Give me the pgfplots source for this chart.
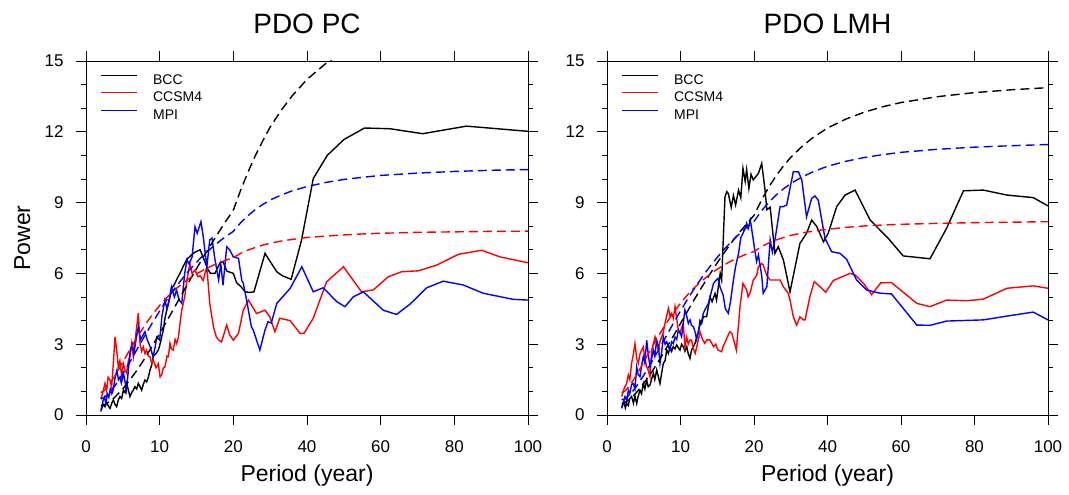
\documentclass[border=0pt]{standalone}
\usepackage{pgfplots}
\pgfplotsset{compat=1.18}
\usepackage{fontspec}
\setmainfont{Liberation Sans}

\pgfplotsset{
  pdo/.style={
    width=442pt, height=354pt, scale only axis,
    xmin=0, xmax=100, ymin=0, ymax=15,
    x coord trafo/.code={\pgfmathparse{(##1<20) ? (##1/10) : (1+##1/20)}},
    xtick={0,10,20,40,60,80,100},
    xticklabels={0,10,20,40,60,80,100},
    ytick={0,3,6,9,12,15},
    minor y tick num=2,
    tick align=outside,
    major tick length=10pt, minor tick length=5pt,
    tick style={line width=0.8pt, black},
    axis line style={line width=0.8pt},
    /pgf/number format/assume math mode=true,
    tick label style={font=\fontsize{17}{17}\selectfont},
    xticklabel style={yshift=-12pt},
    yticklabel style={xshift=-9pt},
    no markers,
    legend style={draw=none, fill=none, at={(0,1)}, anchor=north west,
      xshift=14.7pt, yshift=-13.3pt, font=\fontsize{14}{14}\selectfont,
      row sep=7.5pt, inner sep=0pt, outer sep=0pt,
      nodes={inner sep=0pt, text height=10pt, text depth=0pt},
      /tikz/every odd column/.append style={column sep=15pt}},
    legend image code/.code={\draw[##1] (0pt,4pt) -- (36pt,4pt);},
    legend cell align=left,
  },
  sol/.style={line width=1.4pt},
  dsh/.style={line width=1.4pt, dash pattern=on 9pt off 5pt, forget plot},
}

\begin{document}
\begin{tikzpicture}
\useasboundingbox (0,0) rectangle (1069pt,495pt);

% ---------------- Left panel: PDO PC ----------------
\begin{axis}[pdo, name=L, at={(86pt,80pt)}, anchor=south west]
\addplot[black, sol] coordinates {(2.0,0.15)(2.13,0.28)(2.35,0.45)(2.58,0.35)(2.8,0.55)(3.0,0.4)(3.26,0.28)(3.5,0.5)(3.71,0.64)(3.94,0.45)(4.16,0.35)(4.39,0.64)(4.61,0.78)(4.84,0.7)(5.07,1.05)(5.3,0.95)(5.52,1.34)(5.75,1.06)(5.97,0.78)(6.2,0.95)(6.42,1.05)(6.65,1.2)(6.88,1.1)(7.1,1.34)(7.33,1.2)(7.55,1.05)(7.78,1.3)(8.0,1.48)(8.23,1.4)(8.46,1.6)(8.69,1.9)(8.9,2.1)(9.14,2.5)(9.5,2.6)(9.82,2.75)(10.05,3.0)(10.27,3.31)(10.5,3.6)(10.72,4.1)(11.0,4.5)(11.18,4.73)(11.4,5.0)(11.63,5.4)(11.85,5.45)(12.1,5.6)(12.4,5.8)(12.75,6.0)(13.2,6.3)(13.7,6.6)(14.2,6.75)(14.8,6.9)(15.5,7.0)(16.0,6.6)(16.5,6.2)(16.9,6.0)(17.5,6.0)(18.2,6.45)(18.6,6.5)(19.1,6.1)(20.0,6.0)(20.9,5.6)(22.0,5.45)(23.2,5.22)(24.5,5.19)(25.6,5.22)(28.6,6.85)(29.6,6.6)(31.8,6.07)(33.3,5.9)(35.7,5.75)(38.5,7.4)(41.7,10.02)(45.5,11.0)(50,11.67)(55.6,12.16)(62.5,12.13)(71.4,11.92)(83.3,12.24)(100,12.02)};
\addlegendentry{BCC}
\addplot[red, sol] coordinates {(2.0,0.7)(2.13,0.78)(2.4,1.1)(2.58,1.34)(2.8,1.05)(3.0,1.6)(3.26,1.48)(3.48,1.19)(3.71,2.18)(3.94,3.31)(4.16,2.75)(4.39,2.04)(4.6,2.3)(4.84,1.62)(5.07,2.18)(5.3,1.9)(5.52,1.77)(5.75,2.3)(5.97,2.47)(6.2,3.03)(6.42,2.47)(6.65,3.1)(6.88,3.74)(7.1,4.31)(7.33,3.03)(7.55,2.7)(7.78,2.89)(8.0,2.6)(8.23,2.75)(8.46,2.5)(8.69,2.47)(8.9,2.2)(9.14,2.33)(9.5,2.0)(9.82,2.18)(10.05,1.62)(10.27,1.7)(10.5,2.0)(10.72,2.04)(11.0,2.5)(11.18,2.47)(11.4,3.04)(11.6,2.8)(11.85,2.75)(12.1,3.2)(12.3,3.03)(12.55,3.3)(12.76,3.88)(13.0,4.45)(13.4,5.0)(13.7,5.72)(14.1,6.42)(14.4,6.0)(14.8,6.14)(15.2,5.86)(15.5,5.9)(15.9,5.7)(16.4,6.28)(16.8,4.73)(17.3,3.74)(17.7,3.3)(18.0,3.18)(18.4,3.1)(18.8,3.5)(19.1,3.81)(19.5,3.4)(20.0,3.17)(21.4,3.46)(22.7,4.44)(24.1,4.87)(26.3,4.3)(28.6,4.44)(29.9,4.16)(31.3,3.53)(32.6,4.1)(35.4,4.0)(38.1,3.46)(39.2,3.46)(41.7,4.1)(45.3,5.64)(49.9,6.28)(54.8,5.22)(58,5.3)(62.1,5.86)(65.7,6.07)(70.2,6.11)(75.2,6.35)(81.1,6.81)(87.4,6.98)(92.4,6.7)(100,6.45)};
\addlegendentry{CCSM4}
\addplot[blue, sol] coordinates {(2.0,0.3)(2.13,0.28)(2.3,0.6)(2.5,0.75)(2.7,0.5)(2.9,0.9)(3.1,0.75)(3.3,1.1)(3.5,0.9)(3.7,1.06)(3.9,1.5)(4.2,1.9)(4.4,1.5)(4.6,1.6)(4.8,1.35)(5.1,1.76)(5.3,1.4)(5.5,1.06)(5.75,1.9)(6.0,2.75)(6.3,3.0)(6.5,2.6)(6.8,3.2)(7.1,3.74)(7.4,3.2)(7.6,3.3)(8.0,3.53)(8.3,3.2)(8.7,2.9)(9.1,2.47)(9.4,2.9)(9.6,3.3)(10.0,3.18)(10.3,4.16)(10.7,4.87)(11.0,4.5)(11.2,4.73)(11.6,5.43)(12.0,5.0)(12.3,5.3)(12.6,4.9)(13.0,4.73)(13.4,6.0)(13.7,6.57)(14.0,6.4)(14.4,6.7)(14.8,7.98)(15.1,7.7)(15.6,8.19)(15.9,7.6)(16.4,6.28)(16.8,7.42)(17.1,7.5)(17.5,6.6)(18.0,5.72)(18.3,6.4)(18.6,5.5)(19.1,7.13)(19.5,7.0)(20.0,6.7)(21.4,6.64)(22.3,5.7)(22.7,5.58)(23.6,4.87)(24.9,3.74)(25.4,3.6)(27.2,2.75)(28.6,3.6)(29.4,3.95)(30.3,3.9)(31.8,4.73)(35.4,5.36)(38.6,6.28)(41.7,5.22)(44.4,5.39)(48.1,4.8)(50.3,4.59)(52.6,5.01)(55.3,5.22)(60.7,4.44)(64.3,4.26)(68,4.7)(72.5,5.39)(77,5.67)(82.4,5.51)(87.8,5.16)(96,4.9)(100,4.87)};
\addlegendentry{MPI}
\addplot[black, dsh] coordinates {(2,0.40)(2.5,0.44)(3,0.53)(3.5,0.64)(4,0.78)(5,1.11)(6,1.50)(7,1.93)(8,2.41)(9,2.92)(10,3.45)(11,4.00)(12,4.55)(13,5.11)(14,5.66)(15,6.20)(16,6.73)(17,7.24)(18,7.74)(19,8.22)(20,8.68)(22,9.53)(24,10.30)(26,11.00)(28,11.62)(30,12.20)(33,12.91)(36,13.53)(40,14.22)(45,14.88)(50,15.40)};
\addplot[red, dsh] coordinates {(2,0.95)(2.5,1.04)(3,1.22)(3.5,1.45)(4,1.70)(5,2.24)(6,2.79)(7,3.32)(8,3.81)(9,4.25)(10,4.64)(11,4.99)(12,5.29)(13,5.55)(14,5.78)(15,5.98)(16,6.15)(17,6.31)(18,6.44)(19,6.56)(20,6.67)(22,6.85)(24,6.99)(26,7.10)(28,7.20)(30,7.28)(33,7.37)(36,7.44)(40,7.52)(45,7.58)(50,7.63)(55,7.67)(60,7.70)(70,7.74)(80,7.76)(90,7.78)(100,7.79)};
\addplot[blue, dsh] coordinates {(2,0.68)(2.5,0.75)(3,0.89)(3.5,1.07)(4,1.27)(5,1.75)(6,2.27)(7,2.82)(8,3.37)(9,3.90)(10,4.41)(11,4.90)(12,5.34)(13,5.75)(14,6.13)(15,6.47)(16,6.79)(17,7.07)(18,7.33)(19,7.57)(20,7.78)(22,8.15)(24,8.45)(26,8.71)(28,8.92)(30,9.11)(33,9.32)(36,9.50)(40,9.68)(45,9.85)(50,9.98)(55,10.07)(60,10.15)(70,10.25)(80,10.32)(90,10.37)(100,10.40)};
\end{axis}

% ---------------- Right panel: PDO LMH ----------------
\begin{axis}[pdo, name=R, at={(607pt,80pt)}, anchor=south west, width=441pt]
\addplot[black, sol] coordinates {(2.0,0.35)(2.3,0.55)(2.5,0.3)(2.67,0.49)(2.9,0.4)(3.1,0.7)(3.35,0.78)(3.6,0.5)(3.8,0.8)(4.04,0.49)(4.25,0.8)(4.49,1.05)(4.7,0.9)(4.94,1.34)(5.15,1.1)(5.4,1.48)(5.6,1.2)(5.85,1.27)(6.05,1.5)(6.3,1.77)(6.5,1.5)(6.76,1.91)(7.0,1.6)(7.21,1.34)(7.45,1.8)(7.66,2.19)(7.9,2.3)(8.12,2.75)(8.35,2.6)(8.57,2.89)(8.8,2.7)(9.0,2.9)(9.25,2.8)(9.48,2.97)(9.7,2.85)(9.93,2.75)(10.15,3.0)(10.38,2.89)(10.6,2.7)(10.85,2.9)(11.05,2.6)(11.29,2.4)(11.5,2.75)(11.75,2.9)(11.97,3.03)(12.2,3.31)(12.45,3.5)(12.65,4.0)(12.88,3.88)(13.1,4.16)(13.56,4.17)(14.01,5.0)(14.3,4.8)(14.7,5.15)(14.9,4.87)(15.4,6.0)(15.6,5.72)(16.05,9.25)(16.3,9.46)(16.5,9.39)(16.9,8.8)(17.2,9.3)(17.5,8.9)(17.9,9.53)(18.2,9.2)(18.5,10.45)(18.8,9.9)(19.0,10.4)(19.3,9.6)(19.6,10.2)(19.9,9.96)(20.5,10.1)(21.2,10.24)(22.1,10.66)(23.0,9.53)(23.5,8.7)(24.4,8.8)(25.7,6.85)(26.6,7.13)(28.0,6.57)(29.8,5.22)(31.2,6.28)(32.5,7.27)(34.3,7.7)(35.7,8.26)(37.1,7.98)(38.9,7.34)(40.2,7.7)(42.5,8.83)(44.8,9.32)(47.5,9.53)(51.6,8.26)(56.5,7.49)(60.6,6.74)(67.9,6.62)(72.4,7.91)(77,9.5)(82.4,9.53)(88.8,9.32)(96,9.21)(100,8.86)};
\addlegendentry{BCC}
\addplot[red, sol] coordinates {(2.0,0.78)(2.3,1.1)(2.67,1.34)(2.9,1.7)(3.1,1.5)(3.35,2.19)(3.6,2.6)(3.8,3.03)(4.04,2.4)(4.26,2.19)(4.5,2.6)(4.72,2.75)(4.94,2.89)(5.15,2.4)(5.4,2.04)(5.6,1.9)(5.85,1.62)(6.08,2.75)(6.3,3.0)(6.53,3.31)(6.75,3.0)(6.98,2.75)(7.2,3.1)(7.44,3.31)(7.65,3.5)(7.89,3.88)(8.12,4.2)(8.35,4.52)(8.57,4.2)(8.8,4.31)(9.03,4.1)(9.25,4.59)(9.48,4.1)(9.7,3.6)(9.93,3.46)(10.15,3.7)(10.38,3.88)(10.6,2.89)(10.84,3.31)(11.05,3.0)(11.3,3.18)(11.5,3.17)(11.75,2.8)(12.0,2.61)(12.2,2.89)(12.45,3.2)(12.65,3.53)(13.0,3.2)(13.3,3.04)(13.6,3.18)(14.0,3.18)(14.5,2.89)(14.8,3.0)(15.1,2.75)(15.6,2.68)(15.8,2.9)(16.3,3.25)(16.7,3.53)(17.0,3.45)(17.6,2.75)(18.1,4.59)(18.5,5.58)(19.0,5.3)(19.2,5.01)(19.5,5.2)(19.9,5.72)(20.7,5.9)(21.2,6.28)(22.1,6.42)(22.5,6.35)(23.5,5.9)(24.4,5.72)(25.5,5.72)(27.1,5.72)(28.0,5.43)(29.3,5.16)(29.8,4.87)(30.7,4.16)(31.6,3.81)(32.5,4.16)(33.4,4.03)(33.9,4.03)(35.2,5.01)(36.4,5.65)(38.0,5.43)(39.5,5.2)(41.6,5.7)(46.1,6.0)(47.5,5.93)(49.8,5.58)(52.0,5.1)(54.5,5.6)(57.4,5.61)(64.3,4.73)(67.9,4.59)(72.4,4.87)(77.9,4.84)(82.4,4.91)(88.8,5.37)(96,5.47)(100,5.37)};
\addlegendentry{CCSM4}
\addplot[blue, sol] coordinates {(2.0,0.28)(2.2,0.5)(2.45,0.78)(2.7,0.6)(2.9,1.05)(3.1,0.9)(3.35,1.3)(3.58,1.34)(3.8,1.1)(4.04,2.04)(4.25,1.7)(4.49,1.62)(4.7,2.1)(4.94,2.47)(5.15,2.2)(5.4,3.17)(5.6,2.6)(5.85,2.04)(6.08,2.4)(6.3,2.75)(6.5,2.5)(6.76,3.17)(7.0,2.9)(7.21,2.18)(7.45,2.7)(7.66,3.31)(7.9,3.0)(8.12,3.1)(8.35,2.9)(8.57,2.75)(8.8,3.1)(9.03,3.03)(9.25,3.3)(9.48,3.2)(9.7,3.6)(9.93,3.5)(10.15,3.32)(10.38,3.9)(10.6,4.45)(10.84,4.2)(11.07,3.88)(11.3,4.03)(11.5,3.8)(11.75,3.74)(12.0,3.5)(12.2,3.2)(12.45,3.6)(12.65,3.8)(12.9,4.0)(13.1,4.31)(13.4,4.5)(13.8,4.73)(14.1,5.1)(14.5,5.58)(14.8,5.7)(15.1,5.79)(15.4,5.4)(15.8,5.08)(16.1,4.5)(16.5,4.31)(16.8,4.8)(17.2,5.72)(17.5,6.3)(17.9,6.85)(18.2,7.5)(18.5,7.7)(18.8,7.9)(19.0,8.12)(19.2,7.9)(19.5,8.26)(19.9,7.42)(20.7,6.5)(21.2,6.78)(22.1,5.9)(22.5,5.16)(23.0,5.3)(23.5,5.44)(24.4,7.42)(25.0,6.9)(25.7,7.42)(27.1,8.83)(28.0,8.83)(28.9,8.9)(30.7,10.31)(32.1,10.3)(33.0,9.96)(34.3,8.4)(35.7,9.18)(36.6,9.28)(37.5,9.1)(39.3,7.5)(41.1,6.92)(43.4,6.85)(45.2,6.6)(47.9,5.72)(50.6,5.3)(54.3,5.16)(57.4,5.13)(64.3,3.81)(67.9,3.8)(72.4,3.98)(82.4,4.03)(88.8,4.19)(96,4.36)(100,4.03)};
\addlegendentry{MPI}
\addplot[black, dsh] coordinates {(2,0.49)(2.5,0.54)(3,0.65)(3.5,0.79)(4,0.95)(5,1.34)(6,1.78)(7,2.27)(8,2.79)(9,3.33)(10,3.88)(11,4.42)(12,4.96)(13,5.47)(14,5.97)(15,6.45)(16,6.90)(17,7.33)(18,7.73)(19,8.10)(20,8.46)(22,9.09)(24,9.65)(26,10.13)(28,10.55)(30,10.92)(33,11.37)(36,11.75)(40,12.16)(45,12.54)(50,12.83)(55,13.06)(60,13.24)(70,13.49)(80,13.66)(90,13.78)(100,13.87)};
\addplot[red, dsh] coordinates {(2,0.94)(2.5,1.03)(3,1.21)(3.5,1.44)(4,1.69)(5,2.24)(6,2.81)(7,3.35)(8,3.86)(9,4.32)(10,4.74)(11,5.11)(12,5.43)(13,5.71)(14,5.96)(15,6.18)(16,6.37)(17,6.54)(18,6.69)(19,6.82)(20,6.93)(22,7.13)(24,7.29)(26,7.41)(28,7.52)(30,7.61)(33,7.71)(36,7.79)(40,7.87)(45,7.95)(50,8.01)(55,8.05)(60,8.08)(70,8.12)(80,8.15)(90,8.17)(100,8.19)};
\addplot[blue, dsh] coordinates {(2,0.64)(2.5,0.70)(3,0.84)(3.5,1.01)(4,1.21)(5,1.68)(6,2.20)(7,2.75)(8,3.31)(9,3.87)(10,4.41)(11,4.93)(12,5.41)(13,5.87)(14,6.29)(15,6.68)(16,7.04)(17,7.37)(18,7.67)(19,7.95)(20,8.20)(22,8.64)(24,9.01)(26,9.32)(28,9.58)(30,9.81)(33,10.08)(36,10.30)(40,10.54)(45,10.75)(50,10.91)(55,11.03)(60,11.13)(70,11.26)(80,11.35)(90,11.41)(100,11.46)};
\end{axis}

% titles and labels
\node[anchor=base, font=\fontsize{28}{28}\selectfont] at ([yshift=27pt]L.north) {PDO PC};
\node[anchor=base, font=\fontsize{28}{28}\selectfont] at ([yshift=27pt]R.north) {PDO LMH};
\node[anchor=base, font=\fontsize{23}{23}\selectfont] at ([yshift=-67pt]L.south) {Period (year)};
\node[anchor=base, font=\fontsize{23}{23}\selectfont] at ([yshift=-67pt]R.south) {Period (year)};
\node[anchor=base, rotate=90, font=\fontsize{23}{23}\selectfont] at ([xshift=-56pt]L.west) {Power};
\end{tikzpicture}
\end{document}
